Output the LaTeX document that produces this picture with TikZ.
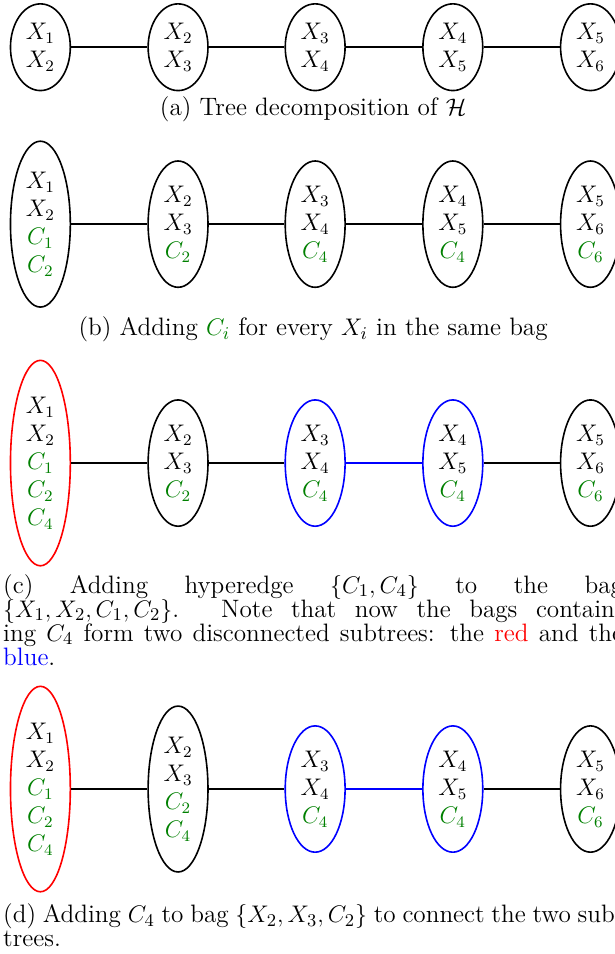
\documentclass[tikz,border=0pt]{standalone}
\usepackage{amsmath}
\usepackage{amssymb}
\usepackage{tikz}
\usetikzlibrary{shapes.geometric}

\definecolor{cgreen}{rgb}{0,0.5,0}
\newcommand{\cv}[1]{\textcolor{cgreen}{$C_{#1}$}}
\newcommand{\capfont}{\fontsize{12.6}{12}\selectfont\lineskiplimit=-6pt\relax}

\begin{document}
\begin{tikzpicture}[
	bag/.style={draw,ellipse,thick,align=center,font=\large},
	caption/.style={anchor=base west,inner sep=0pt}]
	\useasboundingbox (0,0) rectangle (10.81,-16.77);
	% (a) tree decomposition
	\draw[color=black, thick]
	node[bag] (a_1) at (0.71, -0.83){$X_1$\\$X_2$}
	node[bag] (a_2) at (3.13, -0.83){$X_2$\\$X_3$}
	node[bag] (a_3) at (5.54, -0.83){$X_3$\\$X_4$}
	node[bag] (a_4) at (7.96, -0.83){$X_4$\\$X_5$}
	node[bag] (a_5) at (10.38, -0.83){$X_5$\\$X_6$};
	\draw [thick] (a_1) -- (a_2);
	\draw [thick] (a_2) -- (a_3);
	\draw [thick] (a_3) -- (a_4);
	\draw [thick] (a_4) -- (a_5);
	\node[caption] (cap_a) at (0.05, -2.03) {\parbox[t]{310pt}{\capfont\centering (a) Tree decomposition of $\mathcal{H}$}};
	% (b) adding C_i
	\draw[color=black, thick]
	node[bag] (b_1) at (0.71, -3.94){$X_1$\\$X_2$\\\cv{1}\\\cv{2}}
	node[bag] (b_2) at (3.13, -3.94){$X_2$\\$X_3$\\\cv{2}}
	node[bag] (b_3) at (5.54, -3.94){$X_3$\\$X_4$\\\cv{4}}
	node[bag] (b_4) at (7.96, -3.94){$X_4$\\$X_5$\\\cv{4}}
	node[bag] (b_5) at (10.38, -3.94){$X_5$\\$X_6$\\\cv{6}};
	\draw [thick] (b_1) -- (b_2);
	\draw [thick] (b_2) -- (b_3);
	\draw [thick] (b_3) -- (b_4);
	\draw [thick] (b_4) -- (b_5);
	\node[caption] (cap_b) at (0.05, -5.90) {\parbox[t]{310pt}{\capfont\centering (b) Adding \textcolor{cgreen}{$C_i$} for every $X_i$ in the same bag}};
	% (c) hyperedge {C_1,C_4}
	\draw[color=black, thick]
	node[bag,draw=red] (c_1) at (0.71, -8.14){$X_1$\\$X_2$\\\cv{1}\\\cv{2}\\\cv{4}}
	node[bag] (c_2) at (3.13, -8.14){$X_2$\\$X_3$\\\cv{2}}
	node[bag,draw=blue] (c_3) at (5.54, -8.14){$X_3$\\$X_4$\\\cv{4}}
	node[bag,draw=blue] (c_4) at (7.96, -8.14){$X_4$\\$X_5$\\\cv{4}}
	node[bag] (c_5) at (10.38, -8.14){$X_5$\\$X_6$\\\cv{6}};
	\draw [thick] (c_1) -- (c_2);
	\draw [thick] (c_2) -- (c_3);
	\draw [thick, blue] (c_3) -- (c_4);
	\draw [thick] (c_4) -- (c_5);
	\node[caption] (cap_c) at (0.05, -10.43) {\parbox[t]{310pt}{\capfont (c) Adding hyperedge $\{C_1, C_4\}$ to the bag\linebreak
		$\{X_1, X_2, C_1, C_2\}$. Note that now the bags contain-\linebreak
		ing $C_4$ form two disconnected subtrees: the \textcolor{red}{red} and the\linebreak
		\textcolor{blue}{blue}.}};
	% (d) C_4 added to {X_2,X_3,C_2}
	\draw[color=black, thick]
	node[bag,draw=red] (d_1) at (0.71, -13.87){$X_1$\\$X_2$\\\cv{1}\\\cv{2}\\\cv{4}}
	node[bag] (d_2) at (3.13, -13.87){$X_2$\\$X_3$\\\cv{2}\\\cv{4}}
	node[bag,draw=blue] (d_3) at (5.54, -13.87){$X_3$\\$X_4$\\\cv{4}}
	node[bag,draw=blue] (d_4) at (7.96, -13.87){$X_4$\\$X_5$\\\cv{4}}
	node[bag] (d_5) at (10.38, -13.87){$X_5$\\$X_6$\\\cv{6}};
	\draw [thick] (d_1) -- (d_2);
	\draw [thick] (d_2) -- (d_3);
	\draw [thick, blue] (d_3) -- (d_4);
	\draw [thick] (d_4) -- (d_5);
	\node[caption] (cap_d) at (0.05, -16.22) {\parbox[t]{310pt}{\capfont (d) Adding $C_4$ to bag $\{X_2, X_3, C_2\}$ to connect the two sub-\linebreak
		trees.}};
\end{tikzpicture}
\end{document}
